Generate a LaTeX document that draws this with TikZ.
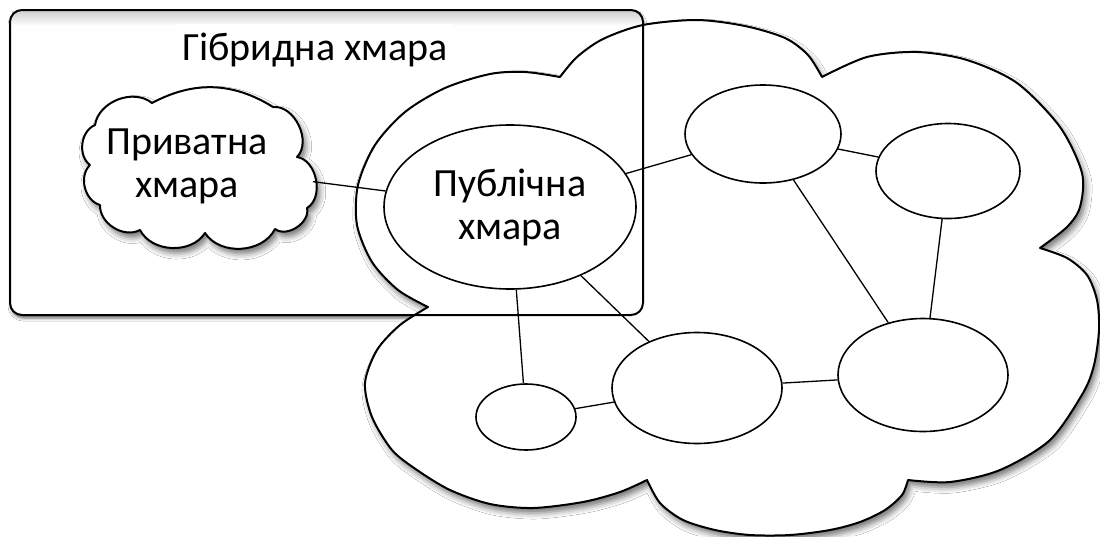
\documentclass[tikz,border=0pt]{standalone}
\usepackage{fontspec}
\setmainfont{Carlito}
\usetikzlibrary{shapes.geometric,shadows.blur}

\tikzset{
  bigtext/.style={font=\fontsize{40}{43}\selectfont, align=center},
  netnode/.style={ellipse, draw, fill=white, line width=1.6pt, inner sep=0pt},
  link/.style={line width=1.3pt},
  softshadow/.style={blur shadow={shadow xshift=3pt, shadow yshift=-5pt,
      shadow blur radius=6pt, shadow opacity=55}},
  outline/.style={line width=2pt, line join=round},
  puff/.style={bend left=#1},
  puff/.default=60,
}

\begin{document}
\begin{tikzpicture}[x=1pt, y=-1pt]
\useasboundingbox (0,0) rectangle (1100,536);
\fill[white] (0,0) rectangle (1100,536);

% hybrid frame: shadow and white interior
\path[fill=white, rounded corners=12pt,
      blur shadow={shadow xshift=1pt, shadow yshift=-3pt, shadow blur radius=3pt, shadow opacity=60}]
  (10,10) rectangle (643,315);
% faint band under the top edge of the frame
\shade[top color=black!18, bottom color=white] (12,11.5) rectangle (641,26);

% frame title
\node[bigtext, fill=white, inner xsep=4pt, inner ysep=8pt, anchor=base] (hybridtitle)
  at (315,60) {Гібридна хмара};

% public cloud outline, one smooth lobe after another
\path[fill=white, draw, outline, softshadow]
  (428,307)
  -- plot[smooth] coordinates {(428,307) (398,290) (372,262) (357,225) (358,185) (375,145)
                               (405,112) (445,88) (490,74) (525,72) (560,77)}
  -- plot[smooth] coordinates {(560,77) (577,57) (603,39) (643,25) (697,20) (745,26)
                               (785,38) (808,55) (822,77)}
  -- plot[smooth] coordinates {(822,77) (867,57) (917,52) (967,60) (1017,83) (1060,127)
                               (1082,173) (1080,207) (1067,227) (1040,248)}
  -- plot[smooth] coordinates {(1040,248) (1067,258) (1087,275) (1097,300) (1099,330)
                               (1094,365) (1083,393) (1050,440) (1000,470) (950,482) (908,480)}
  -- plot[smooth] coordinates {(908,480) (902,495) (885,510) (860,522) (830,530) (790,535)
                               (750,535) (715,530) (683,520) (660,503) (647,480)}
  -- plot[smooth] coordinates {(647,480) (620,492) (583,502) (533,508) (490,504) (450,490)
                               (417,470) (392,450) (372,417) (365,383) (377,350) (400,325) (428,307)}
  -- cycle;

% hybrid frame outline on top
\draw[outline, rounded corners=12pt] (10,10) rectangle (643,315);

% network of clouds inside the public cloud
\node[netnode, bigtext, minimum width=252pt, minimum height=164pt] (public) at (510,207) {Публічна\\хмара};
\node[netnode, minimum width=156pt, minimum height=98pt]  (e1) at (763,134) {};
\node[netnode, minimum width=144pt, minimum height=95pt]  (e2) at (948,171) {};
\node[netnode, minimum width=170pt, minimum height=113pt] (e3) at (923,375) {};
\node[netnode, minimum width=170pt, minimum height=111pt] (e4) at (697,388) {};
\node[netnode, minimum width=100pt, minimum height=66pt]  (e5) at (526,417) {};

% private cloud: puffs between notch points
\path[fill=white, draw, outline, softshadow]
  (95,125) to[puff] (152,103) to[puff=30] (273,107) to[puff=70] (297,157)
  to[puff=70] (307,208) to[puff=70] (275,229) to[puff] (205,233)
  to[puff] (140,230) to[puff] (100,205) to[puff] (90,165)
  to[puff] (95,125) -- cycle;
\node[ellipse, minimum width=232pt, minimum height=150pt] (private) at (199,167) {};
\node[bigtext] (privtext) at (187,166) {Приватна\\хмара};

% links
\draw[link] (private) -- (public);
\draw[link] (public) -- (e1);
\draw[link] (public) -- (e5);
\draw[link] (public) -- (e4);
\draw[link] (e1) -- (e2);
\draw[link] (e1) -- (e3);
\draw[link] (e2) -- (e3);
\draw[link] (e5) -- (e4);
\draw[link] (e4) -- (e3);
\end{tikzpicture}
\end{document}
